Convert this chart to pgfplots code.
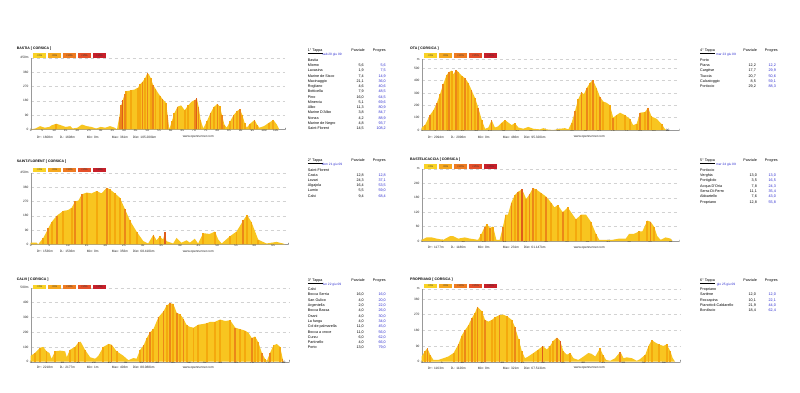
\documentclass[border=0pt]{standalone}
\usepackage{fontspec}
\setmainfont{Liberation Sans}
\usepackage{pgfplots}
\usepackage{pgfplotstable}
\pgfplotsset{compat=1.18}

\definecolor{pbase}{HTML}{F8C520}
\definecolor{s1}{HTML}{F4A90E}
\definecolor{s2}{HTML}{EC8718}
\definecolor{s3}{HTML}{DE5C1A}
\definecolor{lg1}{HTML}{F9D226}
\definecolor{lg2}{HTML}{F6A81F}
\definecolor{lg3}{HTML}{EE7B22}
\definecolor{lg4}{HTML}{E5502A}
\definecolor{lg5}{HTML}{C8202A}
\definecolor{tblue}{HTML}{2B2BD0}

\newcommand{\tk}{\fontsize{3.2}{3.8}\selectfont}
\newcommand{\tbf}{\fontsize{3.7}{4.4}\selectfont}

\pgfplotstableread{
x m s
0 0 0
2 5 0
4 20 0
6 10 0
8 15 0
9 25 0
11 35 1
13 25 0
15 15 0
17 20 0
18 5 0
20 10 0
22 30 0
24 20 0
26 15 0
28 5 0
30 15 0
32 10 0
34 20 0
36 10 0
37 0 0
38 80 2
38.8 150 2
39.5 185 3
40.3 220 2
41 240 1
42 242 0
43 245 1
44.5 250 0
46 262 1
47 285 1
48 300 2
49 320 1
50 352 2
50.7 345 0
51.5 320 1
52.5 278 2
53.5 255 1
54.5 230 0
55.5 210 1
56.5 190 2
57.5 175 0
58 165 1
58.7 90 2
59.4 0 0
60.5 50 1
61.5 100 1
63 143 2
64.5 150 0
66 120 1
67.5 150 1
69 174 0
70.5 185 2
71.2 195 3
72 140 2
72.8 60 1
74 5 0
75.5 50 1
77 100 2
78.5 140 1
80 160 2
81 145 1
82 90 2
83 30 1
84 10 0
85.5 50 1
87 90 2
88.5 115 1
89.7 126 2
90.7 90 1
91.7 40 1
92.6 10 0
94 35 1
96 59 2
97 30 1
98 10 0
100 20 0
102 40 1
104 59 1
105.5 30 0
106.5 0 0
}\tA

\pgfplotstableread{
x m s
0 10 0
1.6 10 0
2 0 0
3.4 40 1
4.7 100 2
5.6 140 1
7 180 2
8.75 210 1
10 215 0
11 230 1
11.9 270 2
12.8 275 0
13.7 314 2
15 325 1
16.3 320 0
17.7 335 1
19 320 0
20.4 356 2
21.25 345 1
22.6 320 1
23.9 293 1
25.3 220 2
26.6 150 1
28.4 80 1
30.2 20 0
31.5 5 0
32.9 60 2
33.75 25 0
34.6 50 1
35.5 30 0
36 75 3
36.4 20 0
38.2 5 0
39.1 40 0
40.4 10 0
41.8 25 0
42.7 10 0
44 35 0
44.9 5 0
46.25 70 1
48 65 0
49.4 80 1
50.3 30 0
51.2 5 0
53.4 50 1
55.2 80 1
57 150 2
58 185 1
59.2 140 1
61 30 1
63.2 5 0
65.9 15 0
67.7 5 0
68.2 0 0
}\tB

\pgfplotstableread{
x m s
0 40 0
1.4 60 1
3 95 1
4 100 0
5 70 1
5.9 60 0
6.6 20 0
7.7 70 1
9.3 75 0
10.9 70 0
11.4 30 0
12.4 80 1
14 100 1
15.1 130 2
15.8 135 0
17.2 80 1
18.8 30 0
20.4 20 0
21.4 40 0
23 100 1
24.6 120 1
25.6 115 2
27.2 70 1
29.3 40 0
30.9 10 0
32.5 25 0
33.5 20 0
34.6 80 1
35.7 110 2
36.7 160 1
37.8 200 2
38.8 220 1
40.4 300 2
42 340 2
43 380 1
44.1 395 2
45.1 390 1
46.2 330 2
47.3 320 1
48.3 290 2
49.4 245 1
50.4 235 0
51.5 230 1
53 250 1
54.6 255 0
55.7 260 1
56.8 270 0
58.3 270 1
59.9 285 1
61.5 275 0
63.1 280 1
64.7 230 2
66.2 220 1
67.8 210 1
68.9 195 0
69.9 160 2
71 170 1
72 130 1
73.1 60 2
74.2 15 1
74.7 5 0
75.7 60 2
76.8 110 1
77.8 120 0
78.9 100 1
79.7 20 2
80 0 0
}\tC

\pgfplotstableread{
x m s
0 20 0
1.2 40 1
3 120 2
4.3 160 1
5.5 216 2
6.7 290 1
7.9 370 2
9.1 445 1
10.1 470 2
11 480 1
11.6 450 0
12.6 485 2
13.4 470 1
14.6 440 1
15.9 418 2
17.1 380 1
18.3 320 2
19.5 260 1
20.7 180 2
22 80 1
23.2 10 0
24.4 20 0
25.6 80 2
26.8 20 0
28 30 0
29.3 60 1
30.5 80 1
31.7 60 0
32.9 40 0
34.1 55 1
35.4 20 0
37.2 10 0
39 25 0
40.9 10 0
43.3 5 0
44.5 15 0
45.7 5 0
48.2 0 0
50.6 10 0
52.4 15 0
53.7 5 0
54.9 60 1
56.1 150 2
57.3 250 1
58.5 305 2
59.4 290 0
60.4 340 2
61.6 380 1
62.6 405 2
64 340 1
65.2 270 2
66.5 230 1
67.7 220 0
68.9 200 1
70.1 100 2
71.3 120 1
72.6 140 0
74.4 120 1
76.2 90 1
77.4 40 0
78.7 50 1
79.9 140 2
81.7 145 1
82.9 180 2
84.1 110 1
86 90 0
87.8 50 1
89 10 0
89.5 0 0
}\tD

\pgfplotstableread{
x m s
0 5 0
1.2 15 0
2.4 15 0
3.6 10 0
5.2 5 0
6.8 20 0
7.6 20 0
8.8 10 0
10.4 15 0
11.6 10 0
13.6 5 0
14.4 30 1
15.2 60 2
15.8 69 1
16.4 55 2
17.2 60 1
18 5 0
18.8 5 0
19.6 60 2
20.2 110 1
20.8 110 0
21.6 160 2
22.4 190 1
23.2 205 2
24.2 215 3
25.2 175 1
26 195 2
26.8 220 2
27.6 215 1
28.8 200 1
30 185 2
31.2 160 1
32 140 0
32.8 150 1
34 120 2
35.2 140 1
36 120 0
37.2 90 1
38.4 110 1
39.6 110 0
40.8 80 1
42 30 1
42.8 5 0
44.4 5 0
46 5 0
47.6 10 0
49.2 10 0
50 30 0
51.2 30 0
52.4 40 1
53.2 40 0
54.4 85 1
55.2 80 2
56 60 1
56.8 20 0
57.6 5 0
58.8 15 0
60 10 0
60.4 0 0
}\tE

\pgfplotstableread{
x m s
0 30 0
0.8 60 1
1.4 77 2
2.1 40 1
2.9 10 0
4.1 10 0
5.4 20 0
6.6 30 0
7.9 50 1
9.1 100 2
9.9 150 1
10.7 180 2
11.6 210 1
12.4 250 2
13.2 280 1
13.8 315 2
14.9 290 1
15.7 240 2
16.5 230 0
17.4 240 1
18.2 255 1
19.3 268 2
20.2 270 0
21.2 260 1
22.3 240 1
23.1 200 2
24 130 1
24.8 60 1
25.6 20 0
26.4 30 0
27.7 50 1
28.9 70 1
30 90 3
31 70 0
31.8 90 1
32.6 120 1
33.5 138 2
34.3 120 3
35.1 60 1
36 40 0
36.8 50 1
37.6 20 0
38.8 10 0
40.1 30 0
41.3 50 0
42.1 45 0
43 30 0
44.2 77 1
44.9 40 1
45.7 10 0
46.7 5 0
47.9 20 0
49.2 57 2
50 20 0
50.8 25 0
52.1 20 0
53.3 5 0
54.1 15 0
55.4 40 1
56.2 90 1
57 124 1
57.9 110 0
58.7 100 1
59.9 90 0
60.7 100 1
61.6 60 1
62.2 20 0
62.8 0 0
}\tF

\pgfplotsset{
  prof/.style={
    scale only axis, anchor=south west,
    xmin=0, ymin=0,
    axis x line*=bottom, axis y line*=left,
    axis line style={draw=gray!80, line width=0.4pt, -},
    tick style={draw=none},
    ymajorgrids, grid style={dashed, draw=gray!35, line width=0.3pt},
    tick label style={font=\tk, text=black!85, inner sep=0.5pt},
    xticklabel style={yshift=1.2pt},
    yticklabel style={xshift=-1.5pt},
    /pgf/number format/assume math mode=true,
  },
  strp/.style n args={3}{ycomb, draw=#1, line width=#3, restrict expr to domain={\thisrow{s}}{#2:#2}},
}

\newcommand{\profile}[1]{%
  \addplot[fill=pbase, draw=none] table[x=x,y=m]{#1} \closedcycle;
  \addplot[strp={s1}{1}{1.9pt}] table[x=x,y=m]{#1};
  \addplot[strp={s2}{2}{1.6pt}] table[x=x,y=m]{#1};
  \addplot[strp={s3}{3}{1.2pt}] table[x=x,y=m]{#1};
  \node[anchor=west, inner sep=0pt, font=\tk] at (rel axis cs:1,0) {\raisebox{-2pt}{Km}};
}

% legend boxes: #1 left x, #2 centre y
\newcommand{\legboxes}[2]{%
  \foreach \i/\c/\t in {0/lg1/{<3\%},1/lg2/{<6\%},2/lg3/{<10\%},3/lg4/{<15\%},4/lg5/{>15\%}}{
    \fill[\c] ({#1pt+\i*15pt},{-#2pt-2.4pt}) rectangle ({#1pt+\i*15pt+13.5pt},{-#2pt+2.4pt});
    \node[font=\fontsize{2.6}{3}\selectfont, inner sep=0pt, text=black!80] at ({#1pt+\i*15pt+6.75pt},{-#2pt}) {\t};
  }
}

% table row: #1 xname, #2 xparz, #3 xprog, #4 y centre, #5 name, #6 parz, #7 prog
\newcommand{\trow}[7]{%
  \node[anchor=base west, inner sep=0pt, font=\tbf] at (#1pt,{-#4pt-1.3pt}) {#5};
  \node[anchor=base east, inner sep=0pt, font=\tbf] at (#2pt,{-#4pt-1.3pt}) {#6};
  \node[anchor=base east, inner sep=0pt, font=\tbf, text=tblue] at (#3pt,{-#4pt-1.3pt}) {#7};
}
% table header: #1 xname, #2 xparz, #3 xprog, #4 y, #5 title, #6 xdate, #7 date
\newcommand{\thead}[7]{%
  \node[anchor=base west, inner sep=0pt, font=\tbf] at (#1pt,{-#4pt-1.3pt}) {\underline{#5}};
  \node[anchor=base east, inner sep=0pt, font=\tbf] at (#2pt,{-#4pt-1.3pt}) {Parziale};
  \node[anchor=base east, inner sep=0pt, font=\tbf] at (#3pt,{-#4pt-1.3pt}) {Progres};
  \node[anchor=base, inner sep=0pt, font=\fontsize{3.2}{3.8}\selectfont, text=tblue] at (#6pt,{-#4pt-5.6pt}) {#7};
}
% info line: #1 axis left x, #2 y, then 5 texts
\newcommand{\info}[7]{%
  \begin{scope}[every node/.style={anchor=west, inner sep=0pt, font=\fontsize{3.2}{3.8}\selectfont, text=black!85}]
  \node at ({#1pt+6pt},-#2pt) {#3};
  \node at ({#1pt+29pt},-#2pt) {#4};
  \node at ({#1pt+56pt},-#2pt) {#5};
  \node at ({#1pt+81pt},-#2pt) {#6};
  \node at ({#1pt+102pt},-#2pt) {#7};
  \node at ({#1pt+152pt},-#2pt) {www.openrunner.com};
  \end{scope}
}

\begin{document}
\begin{tikzpicture}
\fill[white] (0,0) rectangle (800pt,-392pt);
\path[use as bounding box] (0,0) rectangle (800pt,-392pt);

% ---------- Panel 1 : Bastia
\begin{axis}[prof, at={(30.7pt,-129.3pt)}, width=254.3pt, height=71.6pt,
  xmax=109, ymax=450, xtick={0,5,...,105}, ytick={0,90,...,450},
  yticklabels={0,90,180,270,360,450m}]
\profile{\tA}
\end{axis}
\node[anchor=west, inner sep=0pt, font=\fontsize{3.5}{4}\selectfont\bfseries] at (16.7pt,-48.3pt) {BASTIA [ CORSICA ]};
\legboxes{32.7}{55.7}
\info{30.7}{137}{D+: 1608m}{D-: 1608m}{Min: 0m}{Max: 361m}{Dist: 105.200km}

% ---------- Panel 2 : Saint-Florent
\begin{axis}[prof, at={(30.7pt,-244.3pt)}, width=257.3pt, height=71.6pt,
  xmax=69, ymax=450, xtick={0,5,...,65}, ytick={0,90,...,450},
  yticklabels={0,90,180,270,360,450m}]
\profile{\tB}
\end{axis}
\node[anchor=west, inner sep=0pt, font=\fontsize{3.5}{4}\selectfont\bfseries] at (16.7pt,-161.7pt) {SAINT-FLORENT [ CORSICA ]};
\legboxes{32.7}{170}
\info{30.7}{251.7}{D+: 1536m}{D-: 1536m}{Min: 0m}{Max: 356m}{Dist: 68.410km}

% ---------- Panel 3 : Calvi
\begin{axis}[prof, at={(30.7pt,-361.7pt)}, width=258.3pt, height=74pt,
  xmax=81.7, ymax=500, xtick={0,5,...,80}, ytick={0,100,...,500},
  yticklabels={0,100,200,300,400,500m}]
\profile{\tC}
\end{axis}
\node[anchor=west, inner sep=0pt, font=\fontsize{3.5}{4}\selectfont\bfseries] at (16.7pt,-280pt) {CALVI [ CORSICA ]};
\legboxes{32.7}{287}
\info{30.7}{367.7}{D+: 2218m}{D-: 2177m}{Min: 1m}{Max: 403m}{Dist: 80.088km}

% ---------- Panel 4 : Ota
\begin{axis}[prof, at={(421.7pt,-130pt)}, width=257.6pt, height=70.7pt,
  xmax=94.3, ymax=572, xtick={0,5,...,90}, ytick={0,100,...,500,572},
  yticklabels={0,100,200,300,400,500,m}]
\profile{\tD}
\end{axis}
\node[anchor=west, inner sep=0pt, font=\fontsize{3.5}{4}\selectfont\bfseries] at (410pt,-48.3pt) {OTA [ CORSICA ]};
\legboxes{423.7}{55.7}
\info{421.7}{137.3}{D+: 2094m}{D-: 2096m}{Min: 0m}{Max: 486m}{Dist: 95.320km}

% ---------- Panel 5 : Bastelicaccia
\begin{axis}[prof, at={(421.7pt,-241pt)}, width=257.6pt, height=72pt,
  xmax=62.1, ymax=300, xtick={0,5,...,60}, ytick={0,60,...,300},
  yticklabels={0,60,120,180,240,m}]
\profile{\tE}
\end{axis}
\node[anchor=west, inner sep=0pt, font=\fontsize{3.5}{4}\selectfont\bfseries] at (410pt,-160pt) {BASTELICACCIA [ CORSICA ]};
\legboxes{423.7}{166.7}
\info{421.7}{247.7}{D+: 1177m}{D-: 1186m}{Min: 0m}{Max: 231m}{Dist: 61.147km}

% ---------- Panel 6 : Propriano
\begin{axis}[prof, at={(421.7pt,-361.7pt)}, width=258.3pt, height=72.7pt,
  xmax=64, ymax=417, xtick={0,5,...,60}, ytick={0,90,...,360,417},
  yticklabels={0,90,180,270,360,m}]
\profile{\tF}
\end{axis}
\node[anchor=west, inner sep=0pt, font=\fontsize{3.5}{4}\selectfont\bfseries] at (410pt,-280pt) {PROPRIANO [ CORSICA ]};
\legboxes{423.7}{286}
\info{421.7}{368.3}{D+: 1163m}{D-: 1126m}{Min: 0m}{Max: 321m}{Dist: 67.513km}

% ---------- Table 1
\thead{307.7}{365}{386}{50}{1° Tappa}{332}{sab 20 giu 09}
\trow{307.7}{364}{386}{60}{Bastia}{}{}
\trow{307.7}{364}{386}{65.25}{Miomo}{5,6}{5,6}
\trow{307.7}{364}{386}{70.5}{Lavasina}{1,9}{7,5}
\trow{307.7}{364}{386}{75.75}{Marine de Sisco}{7,4}{14,9}
\trow{307.7}{364}{386}{81}{Macinaggio}{21,1}{36,0}
\trow{307.7}{364}{386}{86.25}{Rogliano}{4,6}{40,6}
\trow{307.7}{364}{386}{91.5}{Botticella}{7,9}{48,5}
\trow{307.7}{364}{386}{96.75}{Pino}{16,0}{64,5}
\trow{307.7}{364}{386}{102}{Minerviu}{5,1}{69,6}
\trow{307.7}{364}{386}{107.25}{Albo}{11,3}{80,9}
\trow{307.7}{364}{386}{112.5}{Marine D'Albo}{3,8}{84,7}
\trow{307.7}{364}{386}{117.75}{Nonza}{4,2}{88,9}
\trow{307.7}{364}{386}{123}{Marine de Negro}{4,8}{93,7}
\trow{307.7}{364}{386}{128.25}{Saint-Florent}{14,5}{108,2}

% ---------- Table 2
\thead{307.7}{365}{386}{160}{2° Tappa}{332}{dom 21 giu 09}
\trow{307.7}{364}{386}{169.7}{Saint-Florent}{}{}
\trow{307.7}{364}{386}{174.9}{Casta}{12,8}{12,8}
\trow{307.7}{364}{386}{180.1}{Lozari}{24,3}{37,1}
\trow{307.7}{364}{386}{185.3}{Algajola}{16,4}{53,5}
\trow{307.7}{364}{386}{190.5}{Lumio}{5,5}{59,0}
\trow{307.7}{364}{386}{195.7}{Calvi}{9,4}{68,4}

% ---------- Table 3
\thead{307.7}{365}{386}{280}{3° Tappa}{332}{lun 22 giu 09}
\trow{307.7}{364}{386}{289.3}{Calvi}{}{}
\trow{307.7}{364}{386}{294.6}{Bocca Serria}{16,0}{16,0}
\trow{307.7}{364}{386}{299.9}{San Gulico}{4,0}{20,0}
\trow{307.7}{364}{386}{305.2}{Argentella}{2,0}{22,0}
\trow{307.7}{364}{386}{310.5}{Bocca Bassa}{4,0}{26,0}
\trow{307.7}{364}{386}{315.8}{Osani}{4,0}{30,0}
\trow{307.7}{364}{386}{321.1}{La fungu}{4,0}{34,0}
\trow{307.7}{364}{386}{326.4}{Col de palmarella}{11,0}{45,0}
\trow{307.7}{364}{386}{331.7}{Bocca a croce}{11,0}{56,0}
\trow{307.7}{364}{386}{337}{Curzu}{6,0}{62,0}
\trow{307.7}{364}{386}{342.3}{Partinello}{4,0}{66,0}
\trow{307.7}{364}{386}{347.6}{Porto}{13,0}{79,0}

% ---------- Table 4
\thead{700}{757}{778}{50}{4° Tappa}{726}{mar 23 giu 09}
\trow{700}{756}{776}{60}{Porto}{}{}
\trow{700}{756}{776}{65.3}{Piana}{12,2}{12,2}
\trow{700}{756}{776}{70.6}{Cargèse}{17,7}{29,9}
\trow{700}{756}{776}{75.9}{Tiuccia}{20,7}{50,6}
\trow{700}{756}{776}{81.2}{Calcatoggio}{8,5}{59,1}
\trow{700}{756}{776}{86.5}{Porticcio}{29,2}{88,3}

% ---------- Table 5
\thead{700}{757}{778}{160}{5° Tappa}{726}{mer 24 giu 09}
\trow{700}{757}{776}{170}{Porticcio}{}{}
\trow{700}{757}{776}{175.3}{Verghia}{13,0}{13,0}
\trow{700}{757}{776}{180.6}{Portigliolo}{3,5}{16,5}
\trow{700}{757}{776}{185.9}{Acqua D'Oria}{7,8}{24,3}
\trow{700}{757}{776}{191.2}{Serra-Di-Ferro}{11,1}{35,4}
\trow{700}{757}{776}{196.5}{Abbartello}{7,6}{43,0}
\trow{700}{757}{776}{201.8}{Propriano}{12,8}{55,8}

% ---------- Table 6
\thead{700}{757}{778}{280}{6° Tappa}{726}{gio 25 giu 09}
\trow{700}{756}{776}{289.3}{Propriano}{}{}
\trow{700}{756}{776}{294.6}{Sartène}{12,0}{12,0}
\trow{700}{756}{776}{299.9}{Roccapina}{10,1}{22,1}
\trow{700}{756}{776}{305.2}{Pianottoli-Caldarello}{21,9}{44,0}
\trow{700}{756}{776}{310.5}{Bonifacio}{18,4}{62,4}
\end{tikzpicture}
\end{document}
